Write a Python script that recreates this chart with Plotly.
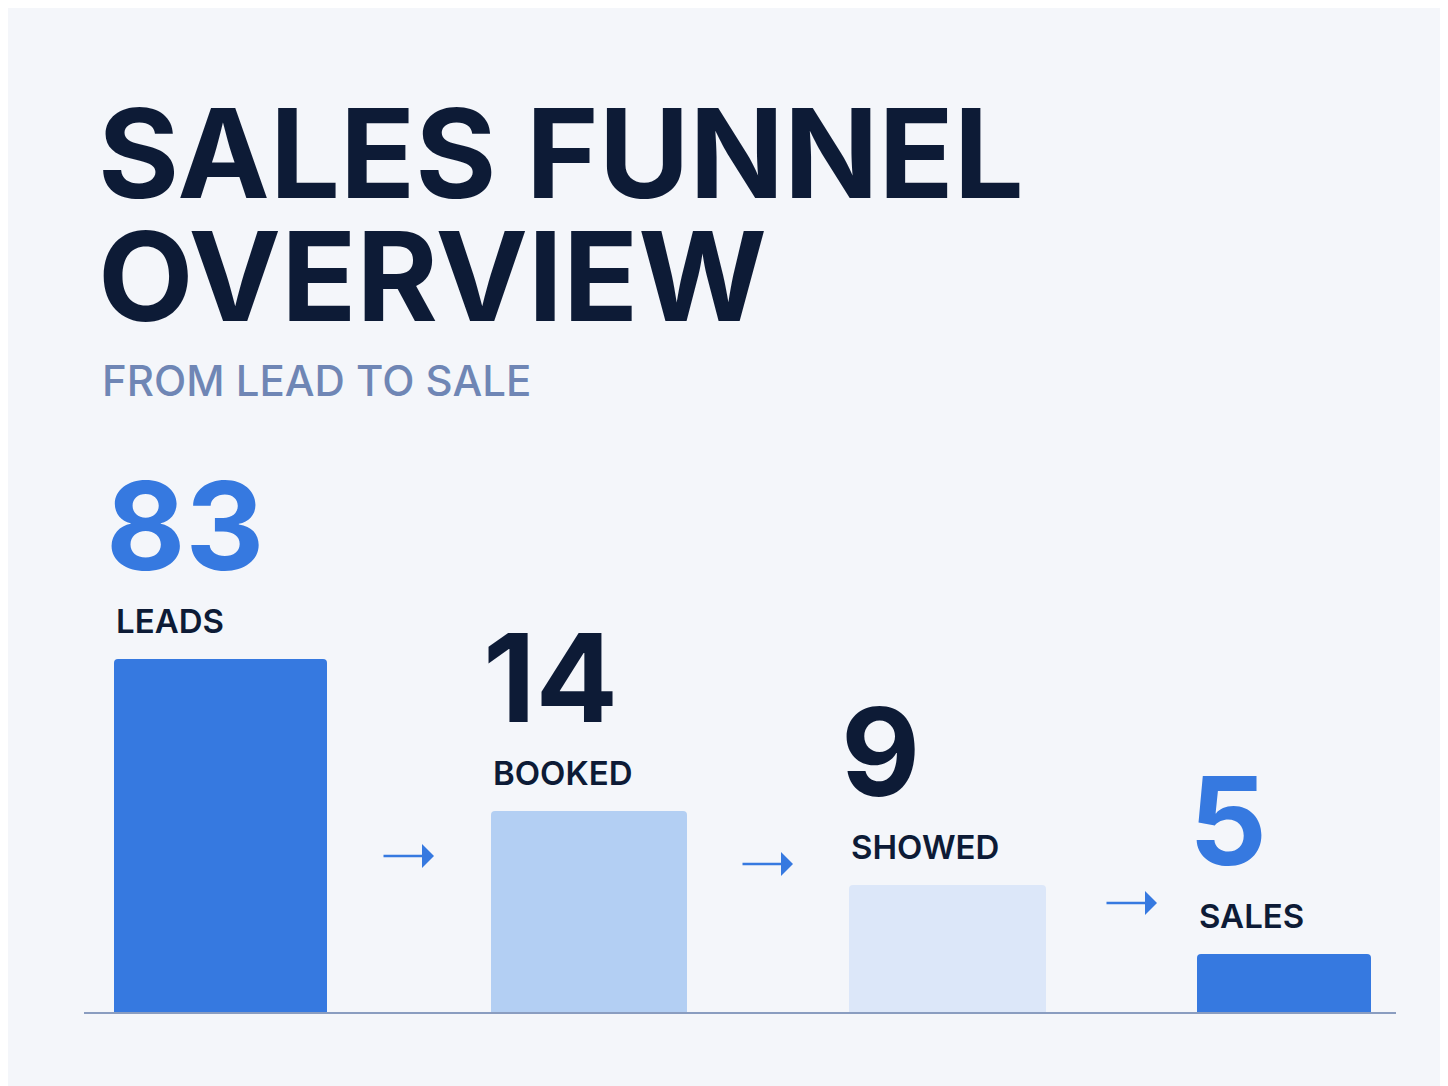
import plotly.graph_objects as go

stages = ["LEADS", "BOOKED", "SHOWED", "SALES"]
counts = [83, 14, 9, 5]
# drawn bar heights (not proportional to counts)
bar_heights = [354, 202, 128, 59]
bar_centers = [204.5, 573, 931.5, 1268]
bar_widths = [213, 196, 197, 174]
bar_colors = ["#3679e0", "#b3cff3", "#dce7f9", "#3679e0"]
num_colors = ["#3679e0", "#0d1b36", "#0d1b36", "#3679e0"]
arrow_x = [393, 752, 1116]
arrow_y = [157, 149, 110]

BASE = 997  # pixel row of baseline
OFF = 8     # page offset
def py(p):
    return BASE - p

fig = go.Figure(go.Bar(x=bar_centers, y=bar_heights, width=bar_widths,
                       marker=dict(color=bar_colors, line=dict(width=0),
                                   cornerradius=4)))

fig.add_shape(type="line", x0=68, x1=1380, y0=0, y1=0,
              line=dict(color="#8a9dc0", width=2))

font = "Inter, Noto Sans, sans-serif"
ann = []
ann.append(dict(x=80, y=py(137), text="<b>SALES FUNNEL</b>", xanchor="left",
                font=dict(size=124, color="#0d1b36", family=font)))
ann.append(dict(x=80, y=py(260), text="<b>OVERVIEW</b>", xanchor="left",
                font=dict(size=124, color="#0d1b36", family=font)))
ann.append(dict(x=84, y=py(364), text="FROM LEAD TO SALE", xanchor="left",
                font=dict(size=42, color="#6f86b5", family=font, weight=500)))
for c, w, h, n, s, col in zip(bar_centers, bar_widths, bar_heights, counts, stages, num_colors):
    left = c - w / 2
    ann.append(dict(x=left - 10, y=h + 134, text=f"<b>{n}</b>", xanchor="left",
                    yanchor="middle", font=dict(size=122, color=col, family=font)))
    ann.append(dict(x=left, y=h + 38, text=s, xanchor="left", yanchor="middle",
                    font=dict(size=33, color="#0d1b36", family=font, weight=600)))
for ax_, ay_ in zip(arrow_x, arrow_y):
    ann.append(dict(x=ax_ + 25, y=ay_, ax=ax_ - 27, ay=ay_, axref="x", ayref="y",
                    showarrow=True, arrowhead=1, arrowsize=1.6, arrowwidth=2.5,
                    arrowcolor="#3679e0", text=""))
for a in ann:
    a.setdefault("showarrow", False)
    a["xref"] = "x"
    a["yref"] = "y"

fig.update_layout(
    width=1448, height=1086, margin=dict(l=0, r=0, t=0, b=0),
    paper_bgcolor="#f4f6fa", plot_bgcolor="rgba(0,0,0,0)",
    xaxis=dict(range=[-OFF, 1448 - OFF], visible=False, fixedrange=True),
    yaxis=dict(range=[BASE + OFF - 1086, BASE + OFF], visible=False, fixedrange=True),
    showlegend=False, annotations=ann,
)
fig.write_html("out.html")
